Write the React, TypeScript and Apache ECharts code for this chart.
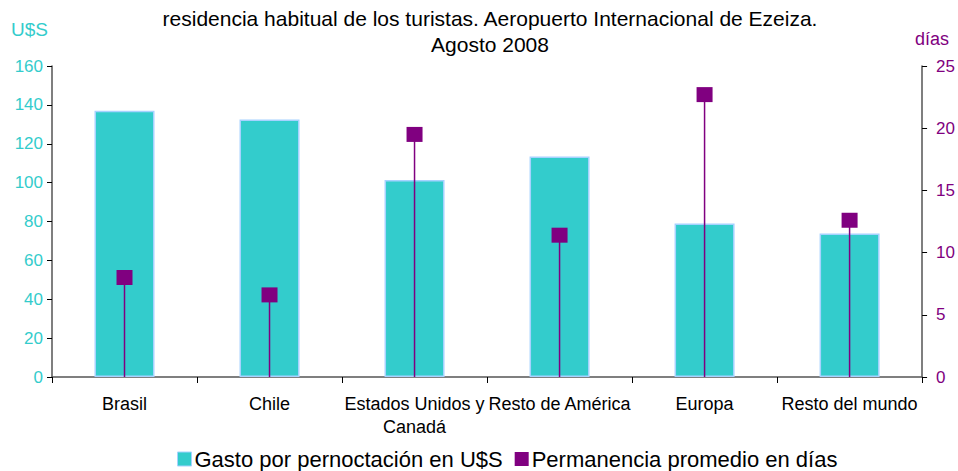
import React, { useEffect, useRef } from "react";
import * as echarts from "echarts";

const categories = [
  "Brasil",
  "Chile",
  "Estados Unidos y\nCanadá",
  "Resto de América",
  "Europa",
  "Resto del mundo",
];
const gasto = [137, 132.5, 101.3, 113.4, 79, 73.8];
const dias = [8.0, 6.6, 19.5, 11.4, 22.7, 12.6];
const leftTicks = { min: 0, max: 160, interval: 20 };
const rightTicks = { min: 0, max: 25, interval: 5 };

const FONT = "Liberation Sans, Arial, sans-serif";

export default function App() {
  const ref = useRef<HTMLDivElement>(null);
  useEffect(() => {
    if (!ref.current) return;
    const chart = echarts.init(ref.current, null, { renderer: "svg" });
    chart.setOption({
      animation: false,
      textStyle: { fontFamily: FONT },
      title: {
        text: "residencia habitual de los turistas. Aeropuerto Internacional de Ezeiza.\nAgosto 2008",
        left: 485,
        textAlign: "center",
        top: 0,
        textStyle: {
          fontSize: 21,
          fontWeight: "normal",
          color: "#000",
          lineHeight: 26,
          fontFamily: FONT,
        },
      },
      graphic: [
        {
          type: "text",
          left: 11,
          top: 20,
          style: { text: "U$S", fill: "#33CCCC", fontSize: 19, fontFamily: FONT },
        },
        {
          type: "text",
          left: 915,
          top: 30,
          style: { text: "días", fill: "#800080", fontSize: 18, fontFamily: FONT },
        },
      ],
      legend: {
        bottom: -4,
        left: 172,
        itemWidth: 14,
        itemHeight: 14,
        itemGap: 12,
        textStyle: { fontSize: 22, color: "#000", fontFamily: FONT, padding: [0, 0, 0, -2] },
        data: [
          {
            name: "Gasto por pernoctación en U$S",
            icon: "rect",
            itemStyle: { color: "#33CCCC", borderColor: "#A6D2FF", borderWidth: 1 },
          },
          { name: "Permanencia promedio en días", icon: "rect" },
        ],
      },
      grid: { left: 52, right: 35, top: 66, bottom: 94 },
      xAxis: {
        type: "category",
        data: categories,
        axisLine: { lineStyle: { color: "#555", width: 1.5 } },
        axisTick: { show: true, length: 6, lineStyle: { color: "#000" } },
        axisLabel: {
          color: "#000",
          fontSize: 18,
          margin: 15,
          lineHeight: 23,
          interval: 0,
          fontFamily: FONT,
        },
      },
      yAxis: [
        {
          type: "value",
          ...leftTicks,
          axisLine: { show: true, lineStyle: { color: "#555", width: 1.5 } },
          axisTick: { show: true, length: 5, lineStyle: { color: "#000" } },
          splitLine: { show: false },
          axisLabel: { color: "#33CCCC", fontSize: 17, margin: 9, fontFamily: FONT },
        },
        {
          type: "value",
          ...rightTicks,
          position: "right",
          axisLine: { show: true, lineStyle: { color: "#555", width: 1.5 } },
          axisTick: { show: true, length: 5, lineStyle: { color: "#000" } },
          splitLine: { show: false },
          axisLabel: { color: "#800080", fontSize: 17, margin: 14, fontFamily: FONT },
        },
      ],
      series: [
        {
          name: "Gasto por pernoctación en U$S",
          type: "bar",
          data: gasto,
          barWidth: 60,
          z: 2,
          itemStyle: { color: "#33CCCC", borderColor: "#A6D2FF", borderWidth: 1.5 },
        },
        {
          name: "Permanencia promedio en días",
          type: "custom",
          yAxisIndex: 1,
          z: 5,
          itemStyle: { color: "#800080" },
          encode: { x: 0, y: 1 },
          data: dias.map((v, i) => [i, v]),
          renderItem: (params: any, api: any) => {
            const top = api.coord([api.value(0), api.value(1)]);
            const base = api.coord([api.value(0), 0]);
            return {
              type: "group",
              children: [
                {
                  type: "line",
                  shape: { x1: top[0], y1: top[1], x2: base[0], y2: base[1] },
                  style: { stroke: "#800080", lineWidth: 1.5 },
                },
                {
                  type: "rect",
                  shape: { x: top[0] - 8, y: top[1] - 7.5, width: 16, height: 15 },
                  style: { fill: "#800080" },
                },
              ],
            };
          },
        },
      ],
    });
    return () => chart.dispose();
  }, []);
  return <div ref={ref} style={{ width: 958, height: 471, position: "absolute", left: 0, top: 0 }} />;
}
